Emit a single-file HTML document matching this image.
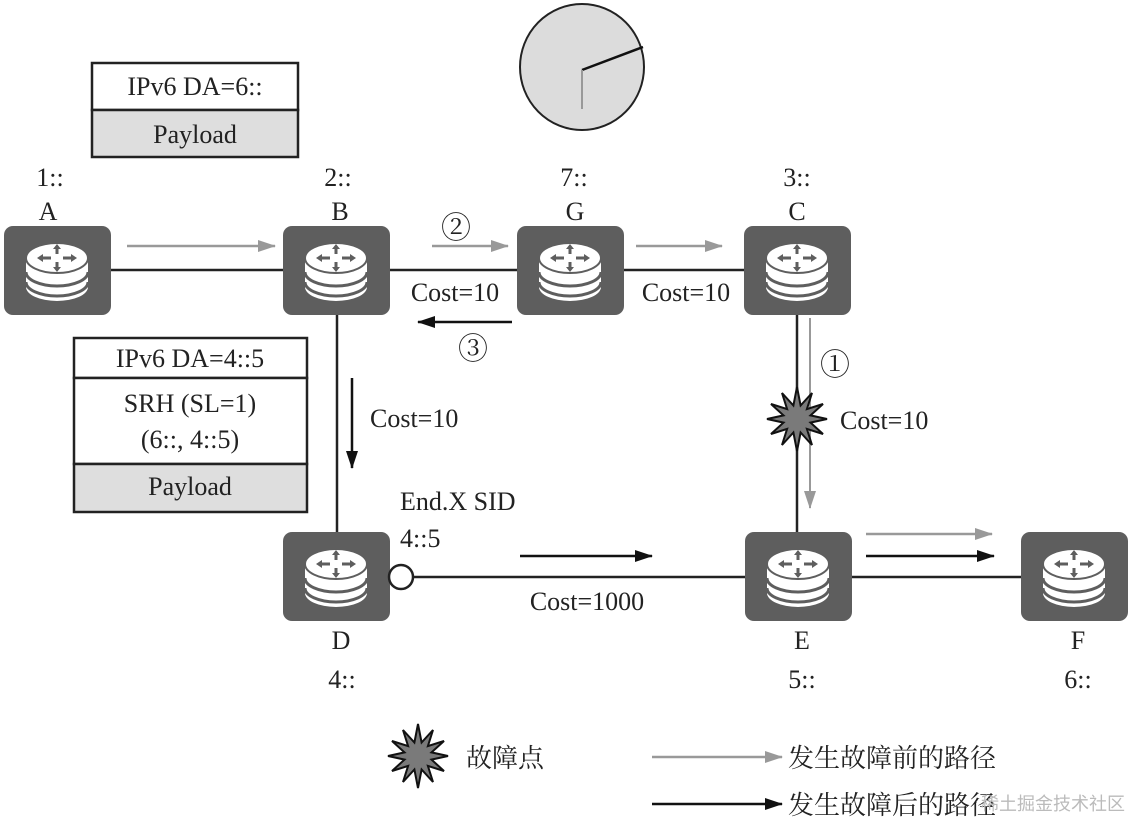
<!DOCTYPE html>
<html><head><meta charset="utf-8"><style>
html,body{margin:0;padding:0;background:#fff;}
svg{display:block;}
text{font-family:"Liberation Serif","Noto Serif CJK SC",serif;font-size:26px;fill:#222;}
.c{text-anchor:middle;}
</style></head><body>
<svg width="1132" height="819" viewBox="0 0 1132 819" xmlns="http://www.w3.org/2000/svg">
<defs>
<g id="r">
<rect x="0" y="0" width="107" height="89" rx="9" fill="#5e5e5e"/>
<path d="M22 33 v28 a31 14 0 0 0 62 0 v-28 z" fill="#fff"/>
<path d="M22 46 a31 14 0 0 0 62 0" fill="none" stroke="#5e5e5e" stroke-width="3"/>
<path d="M22 56 a31 14 0 0 0 62 0" fill="none" stroke="#5e5e5e" stroke-width="3"/>
<ellipse cx="53" cy="32" rx="31" ry="15" fill="#fff" stroke="#5e5e5e" stroke-width="2"/>
<g stroke="#5e5e5e" stroke-width="3" fill="none">
<path d="M37 32 h10 M59 32 h10 M53 21 v7 M53 36 v7"/>
</g>
<g fill="#5e5e5e">
<path d="M33 32 l6 -4 v8z M73 32 l-6 -4 v8z M53 18 l-4 5 h8z M53 46 l-4 -5 h8z"/>
</g>
</g>
<polygon id="star" points="30,0 13.5,3.6 26,15 9.9,9.9 15,26 3.6,13.5 0,32 -3.6,13.5 -15,26 -9.9,9.9 -26,15 -13.5,3.6 -30,0 -13.5,-3.6 -26,-15 -9.9,-9.9 -15,-26 -3.6,-13.5 0,-32 3.6,-13.5 15,-26 9.9,-9.9 26,-15 13.5,-3.6" fill="#7a7a7a" stroke="#111" stroke-width="2"/>
<marker id="ag" markerWidth="18" markerHeight="12" refX="17" refY="6" orient="auto" markerUnits="userSpaceOnUse"><path d="M0 0 L18 6 L0 12z" fill="#999"/></marker>
<marker id="ab" markerWidth="18" markerHeight="12" refX="17" refY="6" orient="auto" markerUnits="userSpaceOnUse"><path d="M0 0 L18 6 L0 12z" fill="#111"/></marker>
</defs>

<g stroke="#222" stroke-width="2.5">
<line x1="110" y1="270" x2="745" y2="270"/>
<line x1="797" y1="313" x2="797" y2="535"/>
<line x1="337" y1="313" x2="337" y2="535"/>
<line x1="413" y1="577" x2="1022" y2="577"/>
</g>

<use href="#r" x="4" y="226"/>
<use href="#r" x="283" y="226"/>
<use href="#r" x="517" y="226"/>
<use href="#r" x="744" y="226"/>
<use href="#r" x="283" y="532"/>
<use href="#r" x="745" y="532"/>
<use href="#r" x="1021" y="532"/>
<circle cx="401" cy="577" r="12" fill="#fff" stroke="#222" stroke-width="2.5"/>

<rect x="92" y="63" width="206" height="47" fill="#fff" stroke="#222" stroke-width="2.5"/>
<rect x="92" y="110" width="206" height="47" fill="#dedede" stroke="#222" stroke-width="2.5"/>
<text x="195" y="95" class="c">IPv6 DA=6::</text>
<text x="195" y="143" class="c">Payload</text>

<rect x="74" y="338" width="233" height="40" fill="#fff" stroke="#222" stroke-width="2.5"/>
<rect x="74" y="378" width="233" height="86" fill="#fff" stroke="#222" stroke-width="2.5"/>
<rect x="74" y="464" width="233" height="48" fill="#dedede" stroke="#222" stroke-width="2.5"/>
<text x="190" y="367" class="c">IPv6 DA=4::5</text>
<text x="190" y="412" class="c">SRH (SL=1)</text>
<text x="190" y="448" class="c">(6::, 4::5)</text>
<text x="190" y="495" class="c">Payload</text>

<ellipse cx="582" cy="67" rx="62" ry="63" fill="#dcdcdc" stroke="#222" stroke-width="2"/>
<line x1="582" y1="70" x2="643" y2="47" stroke="#111" stroke-width="2.5"/>
<line x1="582" y1="70" x2="582" y2="109" stroke="#999" stroke-width="2"/>

<g stroke-width="2.5">
<line x1="127" y1="246" x2="275" y2="246" stroke="#999" marker-end="url(#ag)"/>
<line x1="432" y1="246" x2="508" y2="246" stroke="#999" marker-end="url(#ag)"/>
<line x1="636" y1="246" x2="722" y2="246" stroke="#999" marker-end="url(#ag)"/>
<line x1="810" y1="318" x2="810" y2="508" stroke="#999" stroke-width="2" marker-end="url(#ag)"/>
<line x1="866" y1="534" x2="992" y2="534" stroke="#999" marker-end="url(#ag)"/>
<line x1="512" y1="322" x2="418" y2="322" stroke="#111" marker-end="url(#ab)"/>
<line x1="352" y1="378" x2="352" y2="468" stroke="#111" marker-end="url(#ab)"/>
<line x1="520" y1="556" x2="652" y2="556" stroke="#111" marker-end="url(#ab)"/>
<line x1="866" y1="556" x2="994" y2="556" stroke="#111" marker-end="url(#ab)"/>
<line x1="652" y1="757" x2="782" y2="757" stroke="#999" marker-end="url(#ag)"/>
<line x1="652" y1="804" x2="782" y2="804" stroke="#111" marker-end="url(#ab)"/>
</g>

<use href="#star" x="797" y="419"/>
<use href="#star" x="418" y="756"/>

<text x="50" y="186" class="c">1::</text>
<text x="48" y="220" class="c">A</text>
<text x="338" y="186" class="c">2::</text>
<text x="340" y="220" class="c">B</text>
<text x="574" y="186" class="c">7::</text>
<text x="575" y="220" class="c">G</text>
<text x="797" y="186" class="c">3::</text>
<text x="797" y="220" class="c">C</text>
<text x="456" y="238" class="c" style="font-size:30px">②</text>
<text x="473" y="359" class="c" style="font-size:30px">③</text>
<text x="835" y="375" class="c" style="font-size:30px">①</text>
<text x="455" y="301" class="c">Cost=10</text>
<text x="686" y="301" class="c">Cost=10</text>
<text x="370" y="427">Cost=10</text>
<text x="840" y="429">Cost=10</text>
<text x="400" y="510">End.X SID</text>
<text x="400" y="547">4::5</text>
<text x="587" y="610" class="c">Cost=1000</text>
<text x="341" y="649" class="c">D</text>
<text x="342" y="688" class="c">4::</text>
<text x="802" y="649" class="c">E</text>
<text x="802" y="688" class="c">5::</text>
<text x="1078" y="649" class="c">F</text>
<text x="1078" y="688" class="c">6::</text>
<text x="466" y="767">故障点</text>
<text x="788" y="767">发生故障前的路径</text>
<text x="788" y="814">发生故障后的路径</text>
<text x="1125" y="810" style="font-size:18px;fill:#bbb;font-family:'Noto Sans CJK SC',sans-serif" text-anchor="end">稀土掘金技术社区</text>
</svg>
</body></html>
